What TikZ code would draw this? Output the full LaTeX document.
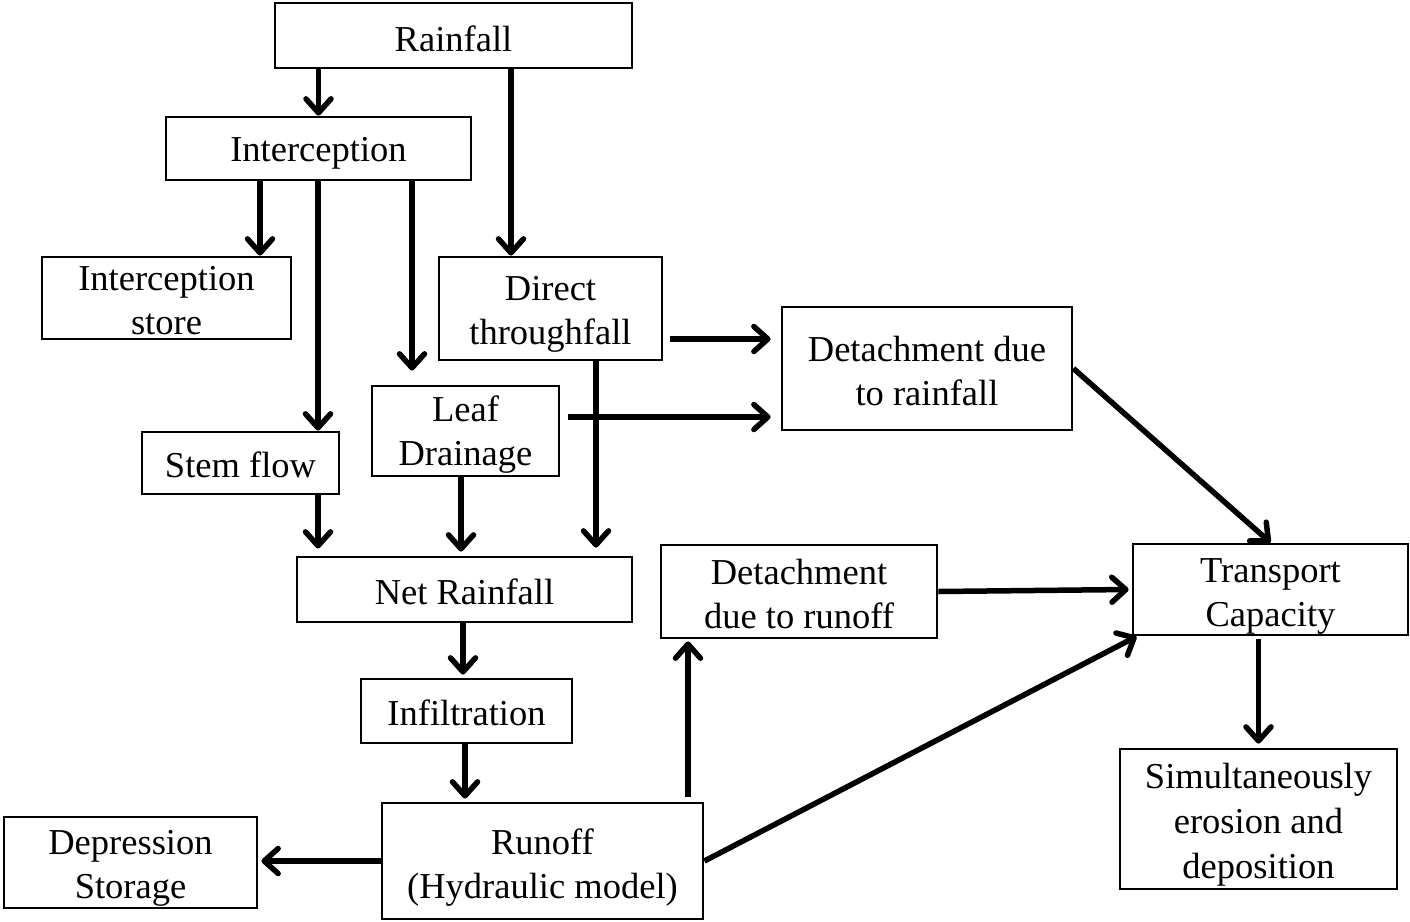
\documentclass[tikz,border=0pt]{standalone}
\usepackage{fontspec}
\setmainfont{Liberation Serif}
\usetikzlibrary{arrows.meta,calc}
\begin{document}
\begin{tikzpicture}[x=1pt,y=-1pt,
  box/.style={draw,line width=2.8pt,inner sep=0pt},
  lab/.style={align=center,inner sep=0pt,font=\fontsize{36.5}{44}\selectfont},
  txt/.style 2 args={label={[lab,yshift=-#1pt]center:{#2}}},
  arr/.style={line width=5.5pt,-{Straight Barb[length=14pt,width=25pt,round]}}]
\useasboundingbox (0,0) rectangle (1410,921);

% boxes with their captions
\node[box,minimum width=357pt,minimum height=65pt, txt={3}{Rainfall}]                (rain)    at (453.5,35.5)  {};
\node[box,minimum width=305pt,minimum height=63pt, txt={5}{Interception}]            (inter)   at (318.5,148.5) {};
\node[box,minimum width=249pt,minimum height=82pt, txt={3}{Interception\\store}]     (istore)  at (166.5,298)   {};
\node[box,minimum width=223pt,minimum height=103pt,txt={6}{Direct\\throughfall}]     (direct)  at (550.5,308.5) {};
\node[box,minimum width=290pt,minimum height=123pt,txt={3}{Detachment due\\to rainfall}] (detrain) at (927,368.5) {};
\node[box,minimum width=187pt,minimum height=90pt, txt={4}{Leaf\\Drainage}]          (leaf)    at (465.5,431)   {};
\node[box,minimum width=197pt,minimum height=62pt, txt={2}{Stem flow}]               (stem)    at (240.5,463)   {};
\node[box,minimum width=335pt,minimum height=65pt, txt={2}{Net Rainfall}]            (net)     at (464.5,589.5) {};
\node[box,minimum width=276pt,minimum height=93pt, txt={3}{Detachment\\due to runoff}] (detrun) at (799,591.5)  {};
\node[box,minimum width=275pt,minimum height=91pt, txt={7}{Transport\\Capacity}]     (trans)   at (1270.5,589.5) {};
\node[box,minimum width=211pt,minimum height=64pt, txt={2}{Infiltration}]            (infil)   at (466.5,711)   {};
\node[box,minimum width=321pt,minimum height=116pt,txt={7}{Runoff\\(Hydraulic model)}] (runoff) at (542.5,861)  {};
\node[box,minimum width=253pt,minimum height=91pt, txt={6}{Depression\\Storage}]     (dep)     at (130.5,862.5) {};
\node[box,minimum width=277pt,minimum height=140pt,txt={6}{Simultaneously\\[1pt]erosion and\\[1pt]deposition}] (simul) at (1258.5,819) {};

% connector end points
\coordinate (dtTop)  at ([xshift=-39.5pt]direct.north);
\coordinate (isTop)  at ([xshift=93.5pt]istore.north);
\coordinate (sfTop)  at ([xshift=77.5pt]stem.north);
\coordinate (ldTop)  at ([xshift=-53.5pt,yshift=14pt]leaf.north);
\coordinate (nrA)    at ([xshift=131.5pt,yshift=8pt]net.north);
\coordinate (nrB)    at ([xshift=-146.5pt,yshift=7pt]net.north);
\coordinate (nrC)    at ([xshift=-3.5pt,yshift=4pt]net.north);
\coordinate (drA)    at ([xshift=-10pt,yshift=29.5pt]detrain.west);
\coordinate (drB)    at ([xshift=-10pt,yshift=-48.5pt]detrain.west);
\coordinate (ifTop)  at ([xshift=-3.5pt,yshift=3pt]infil.north);
\coordinate (roTop)  at ([xshift=-77.5pt,yshift=3pt]runoff.north);
\coordinate (dtrBot) at ([xshift=-111pt,yshift=-2pt]detrun.south);

% connectors
\draw[arr] (rain.south -| inter.north) -- (inter.north);
\draw[arr] (rain.south -| dtTop) -- (dtTop);
\draw[arr] (inter.south -| isTop) -- (isTop);
\draw[arr] (inter.south -| sfTop) -- (sfTop);
\draw[arr] (inter.south -| ldTop) -- (ldTop);
\draw[arr] (direct.south -| nrA) -- (nrA);
\draw[arr] ([xshift=7pt]direct.east |- drA) -- (drA);
\draw[arr] ([xshift=8pt]leaf.east |- drB) -- (drB);
\draw[arr] (detrain.east) -- (trans.north);
\draw[arr] (stem.south -| nrB) -- (nrB);
\draw[arr] (leaf.south -| nrC) -- (nrC);
\draw[arr] (net.south -| ifTop) -- (ifTop);
\draw[arr] (infil.south -| roTop) -- (roTop);
\draw[arr] (runoff.west) -- ([xshift=3pt]dep.east |- runoff.west);
\draw[arr] ([yshift=5pt]runoff.north -| dtrBot) -- (dtrBot);
\draw[arr] (runoff.east) -- ([xshift=5pt]trans.south west);
\draw[arr] (detrun.east) -- ([xshift=-3pt]trans.west);
\draw[arr,shorten <=3pt,shorten >=4pt] (trans.south -| simul.north) -- (simul.north);
\end{tikzpicture}
\end{document}
